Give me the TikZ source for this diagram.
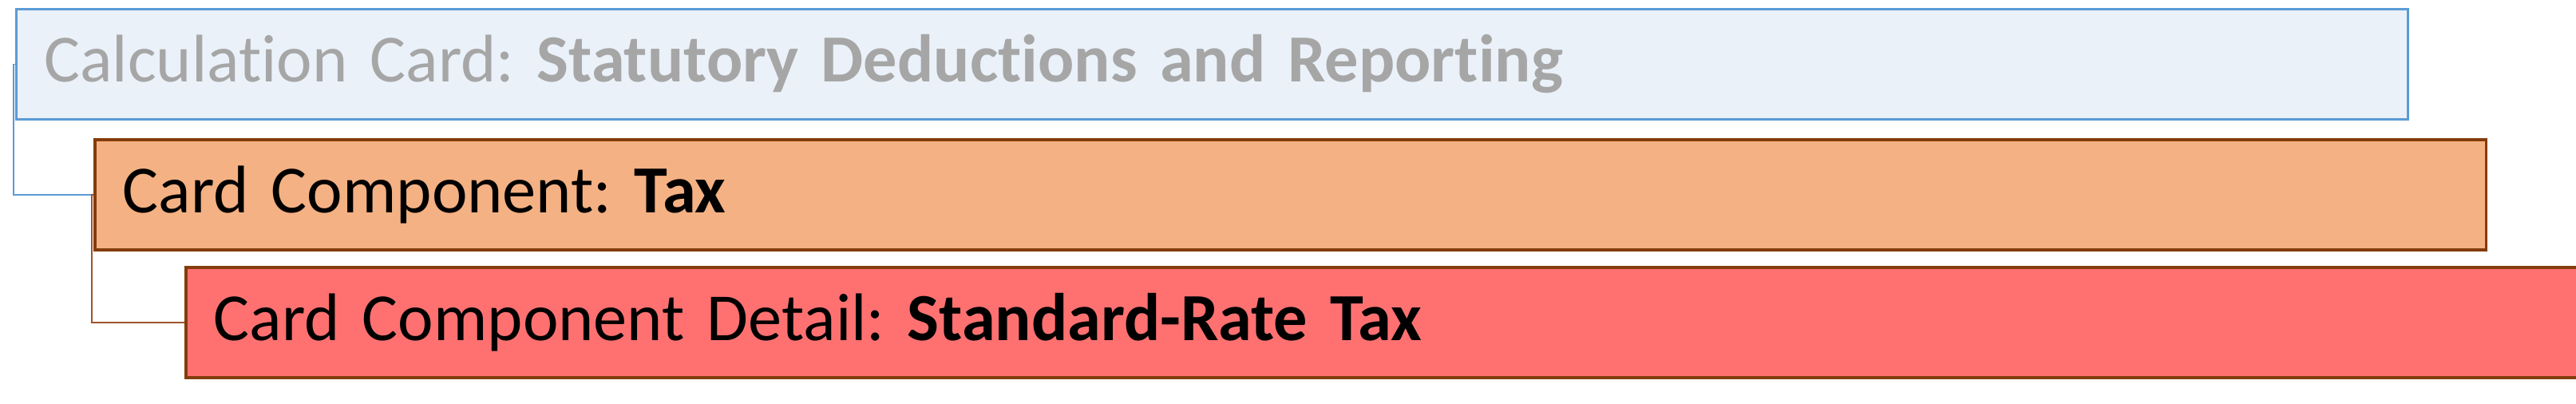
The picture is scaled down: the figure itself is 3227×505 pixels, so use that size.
\documentclass[tikz,border=0pt]{standalone}
\usepackage{fontspec}
\setmainfont{Carlito}[Ligatures=NoCommon]
\frenchspacing
\definecolor{azulborde}{HTML}{5B9BD5}
\definecolor{azulfondo}{HTML}{EAF1F9}
\definecolor{grisletra}{HTML}{A6A6A6}
\definecolor{naranja}{HTML}{F4B183}
\definecolor{rojo}{HTML}{FF7171}
\definecolor{marron}{HTML}{843C0C}
\definecolor{marronclaro}{HTML}{A0522D}
\tikzset{
  tarjeta/.style={rectangle,anchor=north west,minimum height=1.38cm,
    text width=29.24cm,inner xsep=0.35cm,align=left,
    font=\fontsize{24}{28}\selectfont},
}
\begin{document}
\begin{tikzpicture}[x=0.01cm,y=0.01cm]
            \useasboundingbox (0,0) rectangle (3227,505);

            % Tarjetas
            \node[tarjeta,draw=azulborde,fill=azulfondo,line width=0.8pt,text=grisletra] (calc) at (19,495)
              {Calculation Card: \textbf{Statutory Deductions and Reporting}};
            \node[tarjeta,draw=marron,fill=naranja,line width=1pt] (comp) at (117,332)
              {Card Component: \textbf{Tax}};
            \node[tarjeta,draw=marron,fill=rojo,line width=1pt] (detalle) at (231,172)
              {Card Component Detail: \textbf{Standard-Rate Tax}};

            % Conectores
            \draw[azulborde,line width=0.4pt] (calc.west) -- ++(-2,0) |- (comp.west);
            \draw[marronclaro,line width=0.4pt] (comp.west) -- ++(-2,0) |- (detalle.west);
        \end{tikzpicture}
\end{document}
